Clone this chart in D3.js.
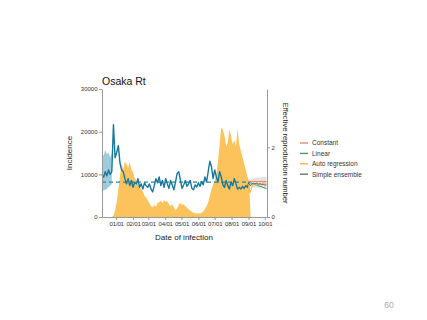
<!DOCTYPE html>
<html>
<head>
<meta charset="utf-8">
<script src="https://cdn.jsdelivr.net/npm/d3@7"></script>
<style>
  html, body { margin: 0; padding: 0; background: #fff; }
  text { font-family: "Liberation Sans", Arial, sans-serif; }
</style>
</head>
<body>
<svg id="chart" width="427" height="320"></svg>
<script>
// ---------- DATA ----------
const title = "Osaka Rt";
const xStart = "2020-12-06", xEnd = "2021-10-05";
const xTickDates = ["2021-01-01","2021-02-01","2021-03-01","2021-04-01","2021-05-01","2021-06-01","2021-07-01","2021-08-01","2021-09-01","2021-10-01"];
const incTicks = [0, 10000, 20000, 30000];
const rtTicks = [0, 2];

// Incidence (by date of infection), every 3 days from 2020-12-24
const incStart = "2020-12-24", incStep = 3;
const incidence = [0,300,1500,3500,6500,9500,12500,11000,13000,12500,11500,13000,11000,10500,9000,8500,8000,7000,6500,6000,
  5000,4500,4000,3200,2600,2200,2800,2400,3200,3500,3800,3300,3900,3500,3700,3000,2600,3000,2200,1600,
  2000,2900,3300,2800,3000,2500,2200,1800,1500,1200,1000,900,800,900,800,1000,1300,1900,2500,3400,
  5000,6500,7500,8500,10000,13000,17000,21000,20500,19000,16500,17500,20500,19000,17000,18000,16500,20800,17000,15500,
  14000,12500,11000,9500,8500,0];

// Estimated Rt, every 3 days from 2020-12-06
const rtStart = "2020-12-06", rtStep = 3;
const rt = [1.2,1.15,1.3,1.18,1.35,1.22,1.3,2.65,1.7,1.85,2.05,1.55,1.35,1.3,1.1,0.95,1.1,0.9,1.05,0.85,
  1.0,0.95,1.1,0.85,0.95,0.8,0.98,0.9,0.85,0.95,0.8,0.72,0.9,1.1,0.98,1.15,0.9,1.05,0.85,1.1,
  0.95,0.82,1.05,0.92,0.78,1.0,1.25,1.3,1.05,0.82,0.92,1.05,0.88,0.95,1.05,0.82,0.78,0.92,0.86,0.98,
  0.88,1.02,0.92,1.15,1.0,1.3,1.6,1.45,1.1,1.35,1.15,1.0,1.3,1.15,0.92,0.85,1.05,0.9,0.8,1.0,
  0.9,1.1,0.95,0.8,0.85,0.8,0.88,0.82,0.9,0.85,1.0];
// credible interval in the first weeks
const rtUpper = [1.9,1.75,1.92,1.8,1.85,1.7,1.85];
const rtLower = [0.74,0.76,0.78,0.8,0.86,0.9,0.95];

// Forecasts, every 3 days from 2021-09-01
const fcStart = "2021-09-01", fcStep = 3;
const fcConstant = [1.02,1.02,1.02,1.02,1.02,1.02,1.02,1.02,1.02,1.02,1.02,1.02];
const fcLinear   = [1.0,0.98,0.97,0.95,0.93,0.92,0.9,0.88,0.87,0.85,0.83,0.82];
const fcAR       = [0.95,0.7,0.85,0.95,0.92,0.98,0.95,0.97,0.96,0.98,0.97,0.97];
const fcEnsemble = [0.99,0.9,0.94,0.97,0.95,0.97,0.94,0.95,0.93,0.94,0.92,0.92];
const fcUpper    = [1.08,1.1,1.1,1.12,1.12,1.13,1.13,1.14,1.14,1.15,1.15,1.15];
const fcLower    = [0.92,0.86,0.86,0.85,0.84,0.84,0.83,0.82,0.82,0.81,0.8,0.8];

const legendNames = ["Constant","Linear","Auto regression","Simple ensemble"];
const legendColors = ["#F07A62","#3E9A5E","#F4B03A","#666666"];

// ---------- DRAW ----------
const svg = d3.select("#chart");
const parse = d3.timeParse("%Y-%m-%d");
const addDays = (s, n) => d3.timeDay.offset(parse(s), n);

const x = d3.scaleTime().domain([parse(xStart), parse(xEnd)]).range([102, 267]);
const yInc = d3.scaleLinear().domain([0, 30000]).range([217, 89]);
const yRt = d3.scaleLinear().domain([0, 3.673]).range([217, 89]);

const incData = incidence.map((v, i) => ({d: addDays(incStart, i * incStep), v}));
const rtData = rt.map((v, i) => ({d: addDays(rtStart, i * rtStep), v}));
const ciData = rtUpper.map((u, i) => ({d: addDays(rtStart, i * rtStep), u, l: rtLower[i]}));
const fcDate = i => addDays(fcStart, i * fcStep);

// incidence area
svg.append("path")
  .datum(incData)
  .attr("fill", "#FCC25B")
  .attr("d", d3.area().x(d => x(d.d)).y0(yInc(0)).y1(d => yInc(d.v)));

// CI band
svg.append("path")
  .datum(ciData)
  .attr("fill", "#8EC3D6").attr("opacity", 0.85)
  .attr("d", d3.area().x(d => x(d.d)).y0(d => yRt(d.l)).y1(d => yRt(d.u)));

// forecast band
svg.append("path")
  .datum(fcUpper.map((u, i) => ({d: fcDate(i), u, l: fcLower[i]})))
  .attr("fill", "#dcdcdc").attr("opacity", 0.8)
  .attr("d", d3.area().x(d => x(d.d)).y0(d => yRt(d.l)).y1(d => yRt(d.u)));

// Rt = 1 dashed
svg.append("line")
  .attr("x1", x(parse(xStart))).attr("x2", x(parse(fcStart)))
  .attr("y1", yRt(1)).attr("y2", yRt(1))
  .attr("stroke", "#2A86AA").attr("stroke-width", 1.2).attr("stroke-dasharray", "4,3");

// Rt line
svg.append("path")
  .datum(rtData)
  .attr("fill", "none").attr("stroke", "#17789E").attr("stroke-width", 1.4)
  .attr("stroke-linejoin", "round")
  .attr("d", d3.line().x(d => x(d.d)).y(d => yRt(d.v)));

// forecast lines
const fcSeries = [fcLinear, fcAR, fcEnsemble, fcConstant];
const fcColors = [legendColors[1], legendColors[2], legendColors[3], legendColors[0]];
fcSeries.forEach((s, k) => {
  svg.append("path")
    .datum(s.map((v, i) => ({d: fcDate(i), v})))
    .attr("fill", "none").attr("stroke", fcColors[k]).attr("stroke-width", 1)
    .attr("d", d3.line().x(d => x(d.d)).y(d => yRt(d.v)));
});

// axes
function styleAxis(g) {
  g.selectAll(".domain").attr("stroke", "#999");
  g.selectAll(".tick line").attr("stroke", "#999");
  g.selectAll(".tick text").attr("fill", "#333").style("font-size", "6px")
    .style("font-family", "'Liberation Sans', Arial, sans-serif");
}
svg.append("g").attr("transform", "translate(102,0)")
  .call(d3.axisLeft(yInc).tickValues(incTicks).tickFormat(d3.format("d")).tickSize(3).tickSizeOuter(0).tickPadding(1.5))
  .call(styleAxis);
svg.append("g").attr("transform", "translate(267,0)")
  .call(d3.axisRight(yRt).tickValues(rtTicks).tickFormat(d3.format("d")).tickSize(3).tickSizeOuter(0).tickPadding(1.5))
  .call(styleAxis);
svg.append("g").attr("transform", "translate(0,217)")
  .call(d3.axisBottom(x).tickValues(xTickDates.map(parse)).tickFormat(d3.timeFormat("%m/%d")).tickSize(3).tickSizeOuter(0).tickPadding(1.5))
  .call(g => { styleAxis(g); g.selectAll(".tick text").style("letter-spacing", "-0.15px"); });

// titles
svg.append("text").attr("x", 102).attr("y", 85).text(title)
  .style("font-size", "10.5px").attr("fill", "#111");
svg.append("text").attr("transform", "translate(72,153) rotate(-90)")
  .attr("text-anchor", "middle").style("font-size", "8px").attr("fill", "#222").text("Incidence");
svg.append("text").attr("transform", "translate(283,153) rotate(90)")
  .attr("text-anchor", "middle").style("font-size", "7.6px").attr("fill", "#222").text("Effective reproduction number");
svg.append("text").attr("x", 184).attr("y", 240)
  .attr("text-anchor", "middle").style("font-size", "8px").attr("fill", "#222").text("Date of infection");

// legend
const lg = svg.append("g");
legendNames.forEach((n, i) => {
  const yy = 143 + i * 10.4;
  lg.append("line").attr("x1", 300).attr("x2", 308).attr("y1", yy).attr("y2", yy)
    .attr("stroke", legendColors[i]).attr("stroke-width", 1.3);
  lg.append("text").attr("x", 312).attr("y", yy + 2.3).text(n)
    .style("font-size", "6.5px").attr("fill", "#333");
});

// page number
svg.append("text").attr("x", 389).attr("y", 308).attr("text-anchor", "middle")
  .style("font-size", "8.5px").attr("fill", "#aaa").text("60");
</script>
</body>
</html>
